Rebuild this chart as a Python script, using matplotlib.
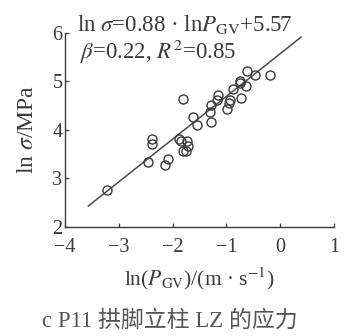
import matplotlib
matplotlib.use("Agg")
import matplotlib.pyplot as plt
import numpy as np

plt.rcParams['font.family'] = ['Liberation Serif', 'Noto Sans CJK SC']
plt.rcParams['mathtext.fontset'] = 'stix'

# data
ln_pgv = [-3.23, -2.45, -2.39, -2.39, -2.15, -2.09, -1.89, -1.84, -1.81, -1.81,
          -1.74, -1.72, -1.76, -1.63, -1.54, -1.31, -1.29, -1.28, -1.18, -1.15,
          -0.98, -0.95, -0.93, -0.88, -0.75, -0.74, -0.72, -0.63, -0.61, -0.46, -0.19]
ln_sigma = [2.75, 3.34, 3.81, 3.71, 3.28, 3.40, 3.81, 3.76, 4.63, 3.57,
            3.76, 3.66, 3.57, 4.27, 4.10, 4.36, 4.52, 4.16, 4.62, 4.72,
            4.43, 4.55, 4.62, 4.84, 4.96, 5.00, 4.65, 4.91, 5.22, 5.13, 5.13]
slope = 0.88
intercept = 5.57
fit_x = [-3.57, 0.39]
xticks = [-4, -3, -2, -1, 0, 1]
yticks = [2, 3, 4, 5, 6]

fig = plt.figure(figsize=(3.47, 3.36), dpi=100)
ax = fig.add_axes([0.188, 0.325, 0.774, 0.577])

col = '#3a3a3a'
fx = np.array(fit_x)
ax.plot(fx, slope * fx + intercept, color='#4a4a4a', lw=1.1)
ax.plot(ln_pgv, ln_sigma, linestyle='none', marker='o', markersize=6.5,
        markerfacecolor='none', markeredgecolor='#3a3a3a', markeredgewidth=1.0)

ax.set_xlim(-4, 1)
ax.set_ylim(2, 6)
ax.set_xticks(xticks)
ax.set_yticks(yticks)
ax.spines['top'].set_visible(False)
ax.spines['right'].set_visible(False)
for s in ['left', 'bottom']:
    ax.spines[s].set_color(col)
    ax.spines[s].set_linewidth(1.0)
ax.tick_params(direction='in', length=3, width=0.9, colors=col, labelsize=14.5, pad=2)
ax.tick_params(axis='x', pad=8)

ax.set_xlabel(r'ln($P_{\mathrm{GV}}$)/(m · s$^{-1}$)', fontsize=15.5, color=col, labelpad=6)
ax.set_ylabel(r'ln $\sigma$/MPa', fontsize=17, color=col, labelpad=10)

ax.text(0.042, 1.045, r'ln $\sigma$=0.88 · ln$P_{\mathrm{GV}}$+5.57', transform=ax.transAxes,
        fontsize=16.5, color=col, ha='left', va='center')
ax.text(0.055, 0.90, r'$\beta$=0.22, $R^2$=0.85', transform=ax.transAxes,
        fontsize=16.5, color=col, ha='left', va='center')

fig.text(0.49, 0.045, 'c P11 拱脚立柱 LZ 的应力', fontsize=16.5, color='#555555',
         ha='center', va='center')

fig.savefig('out.png', dpi=100)
